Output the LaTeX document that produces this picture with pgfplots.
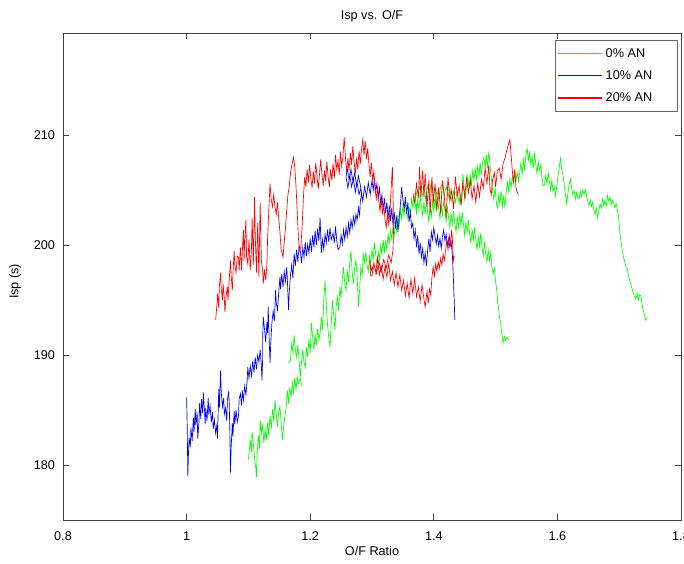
\documentclass[border=0pt]{standalone}
\usepackage{pgfplots}
\pgfplotsset{compat=1.18}
\usepackage{fontspec}
\setmainfont{Liberation Sans}
\newcommand{\fs}{\fontsize{9.5}{11}\selectfont}
\begin{document}
\begin{tikzpicture}
\path[use as bounding box] (-47.25pt,-32.25pt) rectangle (465.75pt,390pt);
\begin{axis}[
  at={(0pt,0pt)}, anchor=south west,
  scale only axis, width=463.5pt, height=365.25pt,
  xmin=0.8, xmax=1.8, ymin=175, ymax=219.3,
  xtick={0.8,1,1.2,1.4,1.6,1.8},
  xticklabels={0.8,1,1.2,1.4,1.6,1.8},
  ytick={180,190,200,210},
  tick align=inside, tick pos=both,
  major tick length=4.5pt,
  axis line style={black!75, line width=0.5pt},
  tick style={black!75, line width=0.5pt},
  /pgf/number format/assume math mode=true,
  tick label style={font=\fs},
  xticklabel style={yshift=-5.5pt},
  yticklabel style={xshift=-2.5pt},
  title={Isp vs. O/F},
  title style={font=\fs, at={(axis description cs:0.5,1)}, anchor=center, yshift=6.75pt},
  xlabel={O/F Ratio},
  xlabel style={font=\fs, at={(axis description cs:0.5,0)}, anchor=center, yshift=-23.25pt},
  ylabel={Isp (s)},
  ylabel style={font=\fs, at={(axis description cs:-0.0777,0.49)}, anchor=center},
  legend style={at={(rel axis cs:1,1)}, anchor=north east, xshift=-2.25pt, yshift=-5.25pt,
    draw=black!60, line width=0.4pt, font=\fs, legend cell align=left, row sep=4.5pt,
    inner xsep=2pt, inner ysep=4pt},
  every axis plot/.append style={line width=0.5pt},
]
% ---------------- 0% AN (green) ----------------
\addlegendimage{color=green, line width=0.9pt, line legend, legend image code/.code={\draw[green, line width=0.9pt] (0pt,0pt) -- (33pt,0pt);}}
\addlegendentry{\makebox[50pt][l]{0\% AN}}
\addlegendimage{color=blue, line width=0.9pt, legend image code/.code={\draw[blue, line width=0.9pt] (0pt,0pt) -- (33pt,0pt);}}
\addlegendentry{\makebox[50pt][l]{10\% AN}}
\addlegendimage{color=red, line width=0.9pt, legend image code/.code={\draw[red, line width=0.9pt] (0pt,0pt) -- (33pt,0pt);}}
\addlegendentry{\makebox[50pt][l]{20\% AN}}
\addplot[color=green, forget plot] coordinates {
(1.100,180.5) (1.102,181.6) (1.103,182.3) (1.105,181.2) (1.106,183.0) (1.108,181.9) (1.110,180.6) (1.112,179.7) (1.113,178.9) (1.114,180.8) (1.116,182.7) (1.118,181.5) (1.119,184.1) (1.121,182.9) (1.123,183.6) (1.125,182.0) (1.127,183.2) (1.129,182.3) (1.131,183.8) (1.133,182.7) (1.135,184.5) (1.137,183.3) (1.139,185.1) (1.141,184.0) (1.143,185.9) (1.145,184.6) (1.147,183.5) (1.149,184.8) (1.151,185.3) (1.153,183.9) (1.155,182.3) (1.157,183.5) (1.159,184.4) (1.161,185.2) (1.163,186.8) (1.165,185.6) (1.167,187.1) (1.169,186.2) (1.171,187.5) (1.173,186.6) (1.175,187.9) (1.177,186.9) (1.179,188.0) (1.181,187.4) (1.184,187.9) (1.186,187.2)
};
\addplot[color=green, forget plot] coordinates {
(1.165,189.3) (1.168,189.5) (1.170,191.0) (1.172,190.2) (1.174,191.8) (1.176,190.5) (1.178,189.8) (1.180,190.9) (1.182,189.6) (1.184,188.0) (1.186,189.4) (1.188,190.5) (1.190,189.3) (1.192,188.9) (1.194,190.7) (1.196,189.8) (1.198,191.5) (1.200,190.2) (1.202,192.9) (1.204,191.6) (1.206,190.5) (1.208,191.8) (1.210,190.9) (1.212,192.4) (1.214,191.4) (1.216,192.0) (1.218,193.5) (1.220,192.3) (1.222,195.0) (1.224,196.8) (1.226,194.6) (1.228,192.8) (1.230,191.6) (1.232,190.7) (1.234,192.9) (1.236,195.0) (1.238,193.6) (1.240,192.3) (1.242,194.4) (1.244,195.3) (1.246,194.0) (1.248,196.2) (1.250,195.2) (1.252,197.0) (1.254,198.0) (1.256,196.4) (1.258,195.9) (1.260,197.6) (1.262,196.8) (1.264,198.4) (1.266,199.5) (1.268,197.5) (1.270,196.5) (1.272,198.0) (1.274,198.6) (1.276,197.2) (1.278,194.4) (1.280,196.0) (1.282,198.0) (1.284,197.3) (1.286,199.1) (1.288,198.4) (1.290,199.3) (1.292,198.2) (1.294,197.6) (1.296,199.0) (1.298,198.3) (1.300,199.6) (1.302,198.7) (1.304,200.2) (1.306,199.1) (1.308,198.3) (1.310,199.4) (1.312,198.6) (1.314,200.0) (1.316,199.2) (1.318,200.5) (1.320,199.4) (1.322,200.3) (1.324,199.6) (1.326,201.0) (1.328,200.2) (1.330,201.4) (1.332,200.5) (1.334,201.7) (1.336,200.9) (1.338,202.2) (1.340,201.3) (1.342,202.6) (1.344,201.8) (1.346,203.2) (1.348,202.4) (1.350,203.6) (1.352,202.7) (1.354,204.0) (1.356,203.1) (1.358,202.4) (1.360,203.5) (1.362,202.8) (1.364,204.2) (1.366,203.4) (1.368,204.6) (1.370,203.7) (1.372,202.9) (1.374,204.0) (1.376,203.2) (1.378,204.5) (1.380,203.6) (1.382,202.7) (1.384,203.9) (1.386,202.8) (1.388,204.1) (1.390,203.0) (1.392,202.1) (1.394,203.5) (1.396,202.6) (1.398,204.0)
(1.400,203.1) (1.402,204.2) (1.404,203.0) (1.406,204.4) (1.408,203.3) (1.410,202.4) (1.412,203.6) (1.414,202.7) (1.416,204.0) (1.418,203.1) (1.420,202.2) (1.422,203.4) (1.424,202.5) (1.426,201.6) (1.428,202.9) (1.430,201.9) (1.432,203.1) (1.434,202.0) (1.436,201.2) (1.438,202.5) (1.440,201.6) (1.442,202.8) (1.444,201.8) (1.446,203.0) (1.448,201.9) (1.450,200.9) (1.452,202.1) (1.454,201.2) (1.456,202.3) (1.458,201.0) (1.460,200.2) (1.462,201.4) (1.464,200.5) (1.466,201.6) (1.468,200.4) (1.470,199.6) (1.472,200.8) (1.474,199.9) (1.476,201.1) (1.478,199.8) (1.480,199.0) (1.482,200.2) (1.484,199.2) (1.486,198.5) (1.488,199.6) (1.490,198.6) (1.492,199.3) (1.494,198.0) (1.496,197.4) (1.498,197.9) (1.500,196.7) (1.502,195.8) (1.503,194.9) (1.505,194.2) (1.506,193.5) (1.508,193.0) (1.509,192.4) (1.511,191.6) (1.512,191.1) (1.514,191.7) (1.516,191.3) (1.518,191.6) (1.521,191.4)
};
\addplot[color=green, forget plot] coordinates {
(1.373,205.0) (1.370,204.2) (1.372,203.4) (1.375,204.5) (1.378,205.6) (1.381,204.4) (1.384,205.3) (1.387,204.1) (1.390,205.4) (1.393,204.5) (1.396,205.8) (1.399,204.7) (1.402,203.8) (1.405,205.0) (1.408,204.1) (1.411,205.3) (1.414,205.6) (1.417,204.5) (1.420,205.4) (1.423,204.3) (1.426,205.2) (1.429,204.0) (1.432,204.9) (1.435,203.9) (1.438,205.0) (1.441,203.8) (1.443,204.6) (1.445,203.7) (1.447,206.5) (1.449,205.3) (1.451,204.2) (1.453,205.4) (1.455,206.3) (1.457,205.1) (1.459,206.4) (1.461,205.5) (1.463,206.8) (1.465,205.9) (1.467,207.0) (1.469,206.0) (1.471,207.2) (1.473,206.3) (1.475,207.5) (1.477,206.4) (1.479,207.6) (1.481,208.0) (1.483,207.1) (1.485,208.2) (1.487,207.0) (1.489,208.5) (1.491,207.3) (1.493,206.1) (1.495,205.0) (1.497,204.2) (1.499,205.3) (1.501,204.0) (1.503,203.4) (1.505,204.6) (1.507,203.7) (1.509,204.9) (1.511,203.5) (1.513,204.4) (1.515,203.5) (1.517,204.8) (1.519,205.7) (1.521,204.9) (1.523,206.0) (1.525,205.2) (1.527,206.3) (1.529,205.6) (1.531,206.7) (1.533,205.9) (1.535,206.6) (1.537,205.8)
(1.539,206.6) (1.541,207.5) (1.543,206.4) (1.545,207.8) (1.547,206.9) (1.549,208.2) (1.551,208.8) (1.553,207.7) (1.555,208.4) (1.557,207.3) (1.559,208.1) (1.561,207.0) (1.563,208.3) (1.565,207.4) (1.567,206.5) (1.569,207.6) (1.571,206.8) (1.573,207.3) (1.575,206.2) (1.577,205.4) (1.579,205.5) (1.581,206.3) (1.583,205.6) (1.585,206.6) (1.587,205.8) (1.589,205.0) (1.591,205.9) (1.593,204.9) (1.595,205.3) (1.597,204.5) (1.599,205.4) (1.601,206.3) (1.603,207.1) (1.605,207.9) (1.607,206.9) (1.609,206.4) (1.611,205.5) (1.613,204.6) (1.615,203.8) (1.617,204.7) (1.619,205.5) (1.621,206.0) (1.623,205.2) (1.625,204.6) (1.627,205.0) (1.629,204.2) (1.631,204.8) (1.633,204.3) (1.635,204.2) (1.637,204.9) (1.639,204.4) (1.641,205.0) (1.643,204.6) (1.645,205.1) (1.647,204.5) (1.649,204.0) (1.651,203.6) (1.653,204.1) (1.655,203.5) (1.657,203.9) (1.659,203.2) (1.661,202.8) (1.663,203.4) (1.665,202.5) (1.667,203.1) (1.669,203.7) (1.671,203.4) (1.673,204.2) (1.675,203.6) (1.677,204.1) (1.679,203.5) (1.681,204.5) (1.683,204.0) (1.685,204.4) (1.687,203.7) (1.689,204.1) (1.691,203.8) (1.693,203.4) (1.695,203.8) (1.697,203.2) (1.699,202.6) (1.701,201.2) (1.703,200.3) (1.705,199.5) (1.707,198.9) (1.709,198.5) (1.711,198.0) (1.713,197.9) (1.715,197.2) (1.717,196.8) (1.719,196.4) (1.721,196.0) (1.723,195.6) (1.725,195.3) (1.727,195.1) (1.729,195.6) (1.731,195.0) (1.733,195.5) (1.735,195.4) (1.737,194.6) (1.739,194.1) (1.741,193.6) (1.743,193.2) (1.745,193.4)
};
% ---------------- 10% AN (blue) ----------------
\addplot[color=blue, forget plot] coordinates {
(1.000,186.2) (1.001,183.5) (1.002,179.0) (1.003,181.0) (1.004,182.5) (1.006,181.6) (1.007,183.4) (1.009,182.2) (1.011,184.3) (1.012,183.0) (1.014,185.1) (1.015,183.6) (1.017,184.8) (1.018,182.4) (1.020,183.9) (1.021,185.6) (1.023,184.2) (1.024,186.0) (1.026,184.7) (1.027,186.6) (1.029,185.0) (1.030,183.7) (1.031,185.2) (1.033,184.0) (1.035,186.1) (1.036,184.6) (1.038,185.4) (1.040,183.9) (1.042,184.8) (1.043,183.3) (1.045,184.1) (1.047,182.9) (1.049,183.6) (1.050,182.4) (1.051,184.7) (1.052,186.9) (1.053,185.2) (1.055,188.6) (1.056,186.7) (1.058,185.3) (1.060,186.1) (1.061,184.6) (1.063,185.2) (1.065,184.0) (1.066,185.9) (1.068,186.7) (1.069,185.5) (1.070,183.0) (1.071,179.3) (1.072,181.5) (1.074,183.8) (1.075,182.6) (1.077,184.9) (1.078,183.7) (1.080,185.0) (1.082,183.9) (1.084,184.5) (1.085,186.0) (1.087,186.5) (1.089,185.4) (1.090,186.8) (1.092,185.9) (1.094,187.2) (1.096,186.4) (1.098,187.7) (1.099,188.9) (1.101,187.9) (1.103,189.0) (1.105,188.1) (1.107,189.5) (1.109,188.4) (1.111,189.8) (1.113,188.7) (1.115,190.0) (1.117,189.4) (1.119,190.5) (1.121,189.0) (1.122,187.7) (1.123,189.6) (1.123,191.4) (1.124,193.5) (1.126,192.4) (1.128,191.2) (1.130,193.0) (1.131,192.0) (1.132,194.4) (1.133,192.6) (1.134,190.8) (1.135,189.3) (1.136,190.9) (1.138,192.9) (1.140,194.0) (1.142,193.1) (1.144,195.9) (1.145,194.8) (1.147,194.1) (1.149,195.6) (1.151,197.1) (1.152,196.0) (1.154,197.4) (1.156,196.2) (1.158,197.6) (1.160,196.7) (1.162,198.0) (1.163,196.9) (1.165,194.1) (1.166,195.6) (1.168,197.2) (1.170,198.2) (1.172,197.0)
(1.174,199.2) (1.176,198.1) (1.178,199.6) (1.180,198.5) (1.182,199.9) (1.184,199.5) (1.186,198.4) (1.188,199.8) (1.190,198.9) (1.192,200.3) (1.194,199.0) (1.196,200.1) (1.198,199.3) (1.200,200.6) (1.202,199.4) (1.204,200.9) (1.206,199.8) (1.208,201.3) (1.210,200.0) (1.212,201.5) (1.214,200.4) (1.216,202.5) (1.217,200.9) (1.218,199.3) (1.220,200.5) (1.222,199.6) (1.224,201.0) (1.226,200.2) (1.228,201.4) (1.230,200.3) (1.232,201.6) (1.234,200.5) (1.237,201.1) (1.239,200.2) (1.241,201.7) (1.243,200.4) (1.245,199.6) (1.248,199.8) (1.250,200.9) (1.252,200.1) (1.254,201.4) (1.256,200.5) (1.258,201.6) (1.260,200.8) (1.262,202.0) (1.264,201.1) (1.266,202.3) (1.268,201.6) (1.270,202.6) (1.272,201.9) (1.274,202.8) (1.276,202.3) (1.278,203.4) (1.280,202.7) (1.281,203.9) (1.283,204.7)
(1.281,205.5) (1.278,206.3) (1.275,205.4) (1.272,206.6) (1.269,205.8) (1.266,206.9) (1.263,205.9) (1.260,207.0) (1.258,206.2) (1.261,205.2) (1.264,206.4) (1.267,205.3) (1.270,206.1) (1.273,204.8) (1.276,205.7) (1.279,204.6) (1.282,205.2) (1.285,204.0) (1.288,205.3) (1.291,204.4) (1.294,205.7) (1.297,204.6) (1.300,205.9) (1.302,205.0) (1.304,206.1) (1.306,204.9) (1.308,205.6) (1.310,204.3) (1.312,205.2) (1.314,203.8) (1.316,204.6) (1.318,203.2) (1.320,204.3) (1.322,202.9) (1.324,203.9) (1.326,202.4) (1.328,203.6) (1.330,202.2) (1.332,203.4) (1.334,201.8) (1.336,203.0) (1.338,201.5) (1.340,202.7) (1.342,201.2) (1.344,202.5) (1.346,203.7) (1.348,205.3) (1.350,204.1) (1.352,203.3) (1.354,204.4) (1.356,202.8) (1.358,203.9) (1.360,202.1) (1.362,203.0) (1.364,201.6) (1.366,202.0) (1.368,200.6) (1.370,201.4) (1.372,199.8) (1.374,200.9) (1.376,199.2) (1.378,200.2) (1.380,198.9) (1.382,199.7) (1.384,198.4) (1.386,199.3) (1.388,198.1) (1.390,199.5) (1.392,200.6) (1.394,199.4) (1.396,201.2) (1.398,200.5) (1.400,201.6) (1.402,200.8) (1.404,200.1) (1.406,200.9) (1.408,199.9) (1.410,200.6) (1.412,199.7) (1.414,200.8) (1.416,201.4) (1.418,200.4) (1.420,201.0) (1.422,200.0) (1.424,200.6) (1.426,199.8) (1.428,200.3) (1.430,199.2) (1.431,198.0) (1.432,196.5) (1.433,195.0) (1.434,193.2)
};
% ---------------- 20% AN (red) ----------------
\addplot[color=red, forget plot] coordinates {
(1.047,193.2) (1.049,194.5) (1.050,195.6) (1.052,194.3) (1.053,196.2) (1.055,197.5) (1.056,196.1) (1.058,195.0) (1.059,196.5) (1.061,195.2) (1.062,193.9) (1.064,195.4) (1.066,196.2) (1.067,195.0) (1.069,196.9) (1.071,198.6) (1.072,197.3) (1.074,195.9) (1.075,197.4) (1.077,199.5) (1.078,198.2) (1.080,197.5) (1.082,199.0) (1.084,198.9) (1.085,197.7) (1.087,199.8) (1.089,197.7) (1.090,199.2) (1.092,201.4) (1.093,198.6) (1.094,200.3) (1.096,202.3) (1.097,199.0) (1.099,198.3) (1.101,200.5) (1.103,197.7) (1.105,199.8) (1.106,202.5) (1.108,198.2) (1.110,204.4) (1.111,201.0) (1.113,197.5) (1.115,202.0) (1.117,197.1) (1.119,203.9) (1.121,198.6) (1.123,197.7) (1.124,196.5) (1.126,197.8) (1.128,196.8) (1.130,198.3) (1.131,200.5) (1.133,203.2) (1.135,205.6) (1.137,204.1) (1.139,203.5) (1.141,204.6) (1.143,203.5) (1.145,202.8) (1.147,203.9) (1.149,202.5) (1.151,201.2) (1.153,199.6) (1.156,198.9) (1.158,200.3) (1.160,201.6) (1.162,203.2) (1.164,204.6) (1.166,205.3) (1.168,206.5) (1.170,207.2) (1.173,208.0) (1.175,207.1) (1.177,205.4) (1.179,203.0) (1.181,200.6) (1.183,199.5) (1.185,199.9) (1.187,201.8) (1.189,204.3) (1.191,206.2) (1.193,205.3) (1.195,206.9) (1.197,205.7) (1.199,207.3) (1.201,206.1) (1.203,205.2) (1.205,206.7) (1.207,205.6) (1.209,207.5) (1.211,206.3) (1.213,205.1) (1.215,206.4) (1.217,207.8) (1.219,206.5) (1.221,205.4) (1.223,206.8) (1.225,205.8) (1.227,207.6) (1.229,206.2) (1.231,205.3) (1.233,206.9) (1.235,205.9) (1.237,207.4) (1.239,206.1) (1.241,208.2) (1.243,206.9) (1.245,207.7) (1.247,206.4) (1.249,208.5) (1.251,207.2) (1.253,208.1) (1.255,209.8) (1.257,208.0) (1.259,206.6) (1.261,207.9) (1.263,206.8) (1.265,208.4) (1.267,207.3) (1.269,209.0) (1.271,207.6) (1.273,206.5) (1.275,207.8) (1.277,206.9) (1.279,208.6) (1.281,207.4) (1.283,208.7) (1.285,209.6) (1.287,208.2) (1.289,209.5) (1.291,207.8) (1.293,208.8) (1.295,207.4) (1.297,206.2) (1.299,207.5) (1.301,205.9) (1.303,206.7) (1.305,205.0) (1.307,204.2) (1.309,205.3) (1.311,204.0) (1.313,203.1) (1.315,204.2) (1.317,202.9) (1.319,203.6) (1.321,202.4) (1.323,201.6) (1.325,202.8) (1.327,201.9) (1.329,203.0) (1.331,205.2) (1.333,207.1) (1.334,204.6) (1.335,201.8) (1.334,199.6) (1.331,198.4) (1.327,199.1) (1.323,197.9) (1.319,198.7) (1.315,197.6) (1.311,198.5) (1.307,197.4) (1.303,198.3) (1.299,197.7) (1.296,198.6) (1.298,197.2)
(1.300,197.2) (1.303,198.4) (1.306,197.5) (1.309,198.8) (1.312,197.3) (1.315,198.1) (1.318,196.9) (1.321,198.0) (1.324,197.1) (1.327,198.3) (1.330,196.8) (1.333,197.6) (1.336,196.4) (1.339,197.5) (1.342,196.2) (1.345,197.3) (1.348,195.9) (1.351,196.8) (1.354,195.4) (1.357,196.5) (1.360,195.2) (1.363,196.9) (1.366,195.6) (1.369,197.0) (1.372,195.3) (1.375,196.2) (1.378,194.9) (1.381,196.4) (1.384,195.1) (1.386,194.4) (1.389,195.8) (1.391,194.7) (1.393,196.0) (1.395,195.5) (1.397,197.1) (1.399,198.0) (1.401,197.2) (1.403,198.3) (1.405,197.6) (1.407,198.5) (1.409,197.9) (1.411,198.8) (1.413,198.2) (1.415,199.2) (1.417,198.6) (1.419,199.5) (1.421,200.4) (1.423,199.6) (1.425,200.9) (1.427,200.1) (1.429,201.4) (1.430,200.6) (1.431,199.3) (1.432,198.6) (1.433,199.0)
};
\addplot[color=red, forget plot] coordinates {
(1.366,204.7) (1.369,203.9) (1.372,205.6) (1.375,204.3) (1.377,207.1) (1.379,204.4) (1.382,206.8) (1.384,204.4) (1.386,206.5) (1.389,203.5) (1.392,205.9) (1.394,202.9) (1.397,206.2) (1.399,203.8) (1.402,205.6) (1.405,203.2) (1.408,205.3) (1.411,202.9) (1.414,205.9) (1.417,204.4) (1.420,202.5) (1.423,206.2) (1.426,204.0) (1.429,205.0) (1.432,203.3) (1.435,206.2) (1.438,204.5) (1.441,205.4) (1.444,203.6) (1.447,205.7) (1.450,204.3) (1.453,206.1) (1.456,204.8) (1.459,205.9) (1.462,204.2) (1.465,205.4) (1.468,203.9) (1.471,205.6) (1.474,204.4) (1.477,206.0) (1.480,205.2) (1.483,207.0) (1.486,205.6) (1.489,207.3) (1.491,205.1) (1.493,204.6) (1.495,205.9) (1.498,206.6) (1.500,205.3) (1.503,206.8) (1.506,207.0) (1.509,206.0) (1.512,207.4) (1.515,207.9) (1.518,208.6) (1.521,209.2) (1.523,209.6) (1.525,208.3) (1.527,206.8) (1.529,205.7) (1.531,206.9) (1.533,205.2) (1.535,204.8) (1.537,204.6)
};
\end{axis}
\end{tikzpicture}
\end{document}
